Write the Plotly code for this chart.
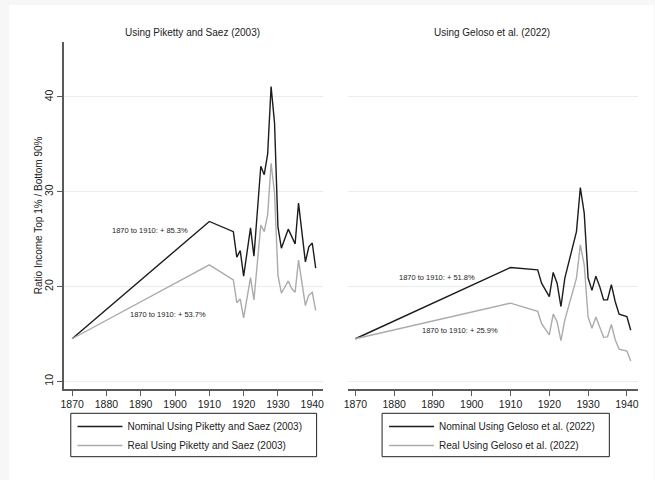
import plotly.graph_objects as go

# Piketty and Saez (2003) series
years_ps = [1870, 1910, 1917, 1918, 1919, 1920, 1922, 1923, 1925, 1926, 1927, 1928,
            1929, 1930, 1931, 1933, 1934, 1935, 1936, 1938, 1939, 1940, 1941]
nominal_ps = [14.5, 26.87, 25.8, 23.1, 23.8, 21.1, 26.2, 23.2, 32.7, 31.8, 34.0, 41.1,
              37.3, 26.3, 24.05, 26.06, 25.3, 24.5, 28.8, 22.6, 24.2, 24.6, 21.95]
real_ps = [14.5, 22.29, 20.7, 18.3, 18.7, 16.7, 20.95, 18.6, 26.5, 25.8, 27.6, 33.0,
           29.9, 21.2, 19.3, 20.6, 19.8, 19.4, 22.8, 18.0, 19.1, 19.4, 17.5]

# Geloso et al. (2022) series
years_g = [1870, 1910, 1917, 1918, 1920, 1921, 1922, 1923, 1924, 1927, 1928, 1929,
           1930, 1931, 1932, 1933, 1934, 1935, 1936, 1937, 1938, 1940, 1941]
nominal_g = [14.5, 22.01, 21.76, 20.36, 18.95, 21.5, 20.36, 17.9, 20.9, 25.8, 30.45, 27.75,
             20.9, 19.6, 21.1, 20.0, 18.6, 18.6, 20.2, 18.4, 17.1, 16.85, 15.4]
real_g = [14.5, 18.26, 17.4, 16.1, 14.9, 17.1, 16.3, 14.3, 16.5, 20.9, 24.4, 22.3,
          16.8, 15.6, 16.8, 15.8, 14.65, 14.7, 16.0, 14.4, 13.4, 13.2, 12.15]

panel_titles = ["Using Piketty and Saez (2003)", "Using Geloso et al. (2022)"]
y_title = "Ratio Income Top 1% / Bottom 90%"
x_ticks = [1870, 1880, 1890, 1900, 1910, 1920, 1930, 1940]
y_ticks = [10, 20, 30, 40]

W, H = 655, 480
FONT = "Liberation Sans, Arial, sans-serif"
DARK = "#1c1c1c"
LIGHT = "#ababab"
AXIS = "#5a5a5a"
GRID = "#e6eeee"


def px_x(v):
    return v / W


def px_y(v):
    return 1 - v / H


def growth(vals, years):
    a = vals[years.index(1870)]
    b = vals[years.index(1910)]
    return f"1870 to 1910: + {(b / a - 1) * 100:.1f}%"


fig = go.Figure()

fig.add_trace(go.Scatter(x=years_ps, y=nominal_ps, mode="lines", xaxis="x", yaxis="y",
                         line=dict(color=DARK, width=1.4),
                         name="Nominal Using Piketty and Saez (2003)", legend="legend"))
fig.add_trace(go.Scatter(x=years_ps, y=real_ps, mode="lines", xaxis="x", yaxis="y",
                         line=dict(color=LIGHT, width=1.4),
                         name="Real Using Piketty and Saez (2003)", legend="legend"))
fig.add_trace(go.Scatter(x=years_g, y=nominal_g, mode="lines", xaxis="x2", yaxis="y2",
                         line=dict(color=DARK, width=1.4),
                         name="Nominal Using Geloso et al. (2022)", legend="legend2"))
fig.add_trace(go.Scatter(x=years_g, y=real_g, mode="lines", xaxis="x2", yaxis="y2",
                         line=dict(color=LIGHT, width=1.4),
                         name="Real Using Geloso et al. (2022)", legend="legend2"))

y_dom = [px_y(389), px_y(42)]
y_range = [9.2, 45.8]

common_x = dict(tickvals=x_ticks, ticks="outside", ticklen=5, tickwidth=1, tickcolor=AXIS,
                showline=True, linecolor=AXIS, linewidth=1.5, showgrid=False, zeroline=False,
                tickfont=dict(size=10.5, color="#222", family=FONT), fixedrange=True)

legend_common = dict(xanchor="left", yanchor="top", bgcolor="rgba(0,0,0,0)", borderwidth=0,
                     itemwidth=45, font=dict(size=10, color="#222", family=FONT),
                     tracegroupgap=0)

fig.update_layout(
    width=W, height=H,
    margin=dict(l=0, r=0, t=0, b=0),
    paper_bgcolor="#f7f7f7",
    plot_bgcolor="rgba(0,0,0,0)",
    font=dict(family=FONT, color="#222"),
    xaxis=dict(domain=[px_x(60), px_x(321)], range=[1867.5, 1943.0], anchor="y", **common_x),
    xaxis2=dict(domain=[px_x(346.7), px_x(639)], range=[1868.1, 1942.9], anchor="y2", **common_x),
    yaxis=dict(domain=y_dom, range=y_range, tickvals=y_ticks, tickangle=-90,
               ticks="outside", ticklen=5, tickcolor=AXIS, showline=True, linecolor=AXIS,
               linewidth=1.5, showgrid=True, gridcolor=GRID, gridwidth=1, zeroline=False,
               tickfont=dict(size=10.5, color="#222", family=FONT), anchor="x"),
    yaxis2=dict(domain=y_dom, range=y_range, tickvals=y_ticks, showticklabels=False,
                ticks="", showline=False, showgrid=True, gridcolor=GRID, gridwidth=1,
                zeroline=False, anchor="x2"),
    legend=dict(x=px_x(69), y=px_y(412), **legend_common),
    legend2=dict(x=px_x(383), y=px_y(412), **legend_common),
    showlegend=True,
)

shapes = [
    # white page area inside the light frame
    dict(type="rect", xref="paper", yref="paper", x0=px_x(5), x1=1, y0=0, y1=px_y(5),
         fillcolor="white", line=dict(width=0), layer="below"),
    # legend frames
    dict(type="rect", xref="paper", yref="paper", x0=px_x(67.3), x1=px_x(315),
         y0=px_y(456.7), y1=px_y(413.3), line=dict(color="#222", width=1)),
    dict(type="rect", xref="paper", yref="paper", x0=px_x(381), x1=px_x(610),
         y0=px_y(456.7), y1=px_y(413.3), line=dict(color="#222", width=1)),
]
fig.update_layout(shapes=shapes)

annotations = [
    dict(text=panel_titles[0], xref="paper", yref="paper", x=px_x(190), y=px_y(33),
         xanchor="center", yanchor="middle", showarrow=False,
         font=dict(size=10, color="#222")),
    dict(text=panel_titles[1], xref="paper", yref="paper", x=px_x(491.7), y=px_y(33),
         xanchor="center", yanchor="middle", showarrow=False,
         font=dict(size=10, color="#222")),
    dict(text=y_title, xref="paper", yref="paper", x=px_x(35), y=px_y(215.5),
         xanchor="center", yanchor="middle", textangle=-90, showarrow=False,
         font=dict(size=10, color="#222")),
    dict(text=growth(nominal_ps, years_ps), xref="x", yref="y", x=1892.8, y=25.88,
         showarrow=False, font=dict(size=7.5, color="#222")),
    dict(text=growth(real_ps, years_ps), xref="x", yref="y", x=1897.9, y=17.1,
         showarrow=False, font=dict(size=7.5, color="#222")),
    dict(text=growth(nominal_g, years_g), xref="x2", yref="y2", x=1891.0, y=21.0,
         showarrow=False, font=dict(size=7.5, color="#222")),
    dict(text=growth(real_g, years_g), xref="x2", yref="y2", x=1896.9, y=15.4,
         showarrow=False, font=dict(size=7.5, color="#222")),
]
fig.update_layout(annotations=annotations)

fig.write_html("out.html")
